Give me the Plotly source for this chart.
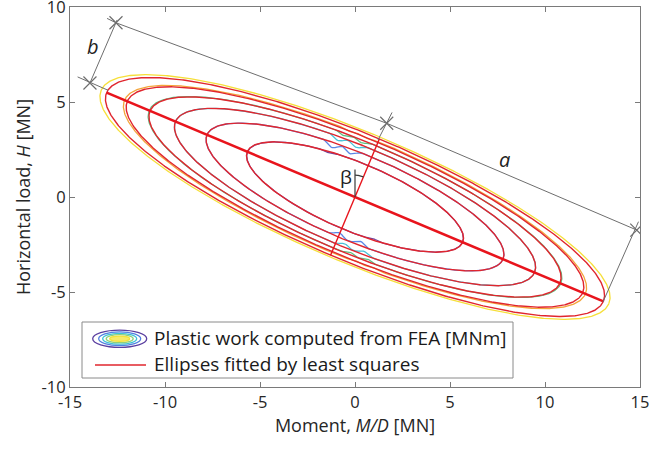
import numpy as np
import plotly.graph_objects as go

# ---------------- data ----------------
# fitted ellipses (centre at origin), semi-axes in MN
ellipse_a = [14.18, 13.00, 11.70, 10.25, 8.45, 6.15]
ellipse_b = [3.32, 3.12, 2.92, 2.66, 2.28, 1.80]
beta_deg = 22.8  # inclination of the ellipses

# FEA plastic-work contours: colour, size relative to fitted ellipse
fea_colors = ["#f6df3a", "#f4a53a", "#5cc184", "#48c1d8", "#5a86e6", "#6a44a2"]
fea_scale_a = [1.022, 1.012, 1.004, 1.0, 1.0, 0.998]
fea_scale_b = [1.03, 1.015, 1.0, 1.0, 1.0, 1.0]
# wiggles of FEA contours near the minor axis: (x position, inward depth)
fea_wiggles_upper = [
    [],
    [(-0.2, 0.08), (0.7, 0.08)],
    [(-0.5, 0.15), (0.4, 0.15)],
    [(-0.8, 0.22), (0.15, 0.22)],
    [(-1.1, 0.28), (-0.15, 0.26)],
    [(-1.3, 0.08)],
]
fea_wiggles_lower = [
    [],
    [(0.0, 0.07), (0.9, 0.07)],
    [(-0.3, 0.13), (0.6, 0.13)],
    [(-0.6, 0.18), (0.4, 0.18)],
    [(-0.9, 0.22), (0.2, 0.22)],
    [(0.9, 0.08)],
]

# dimension annotation points (data units)
dim_major_ext = [(-14.6, 6.32), (-13.0, 5.62)]
dim_b_line = [(-13.95, 6.00), (-12.52, 9.32)]
dim_top_line = [(-13.05, 9.40), (-12.58, 9.17), (1.67, 3.88), (14.83, -1.74)]
dim_minor_ext = [(1.21, 3.00), (1.95, 4.45)]
dim_right_ext = [(13.05, -5.53), (14.92, -1.30)]
dim_cross_x = [-13.95, -12.58, 1.67, 14.83]
dim_cross_y = [6.00, 9.17, 3.88, -1.74]

x_ticks = [-15, -10, -5, 0, 5, 10, 15]
y_ticks = [-10, -5, 0, 5, 10]

# ---------------- geometry helpers ----------------
th = np.deg2rad(beta_deg)
e1 = np.array([np.cos(th), -np.sin(th)])  # major direction
e2 = np.array([np.sin(th), np.cos(th)])   # minor direction
t = np.linspace(0, 2 * np.pi, 721)


def ellipse_xy(a, b, up=None, lo=None):
    u = a * np.cos(t)
    v = b * np.sin(t)
    x = u * e1[0] + v * e2[0]
    for xc, d in (up or []):
        g = np.exp(-((x - xc) / 0.3) ** 2) * (v > 0)
        v = v - d * g
    for xc, d in (lo or []):
        g = np.exp(-((x - xc) / 0.3) ** 2) * (v < 0)
        v = v + d * g
    x = u * e1[0] + v * e2[0]
    y = u * e1[1] + v * e2[1]
    return x, y


fig = go.Figure()

# FEA contours
for i in range(len(ellipse_a)):
    x, y = ellipse_xy(ellipse_a[i] * fea_scale_a[i], ellipse_b[i] * fea_scale_b[i],
                      fea_wiggles_upper[i], fea_wiggles_lower[i])
    fig.add_trace(go.Scatter(x=x, y=y, mode="lines", showlegend=False,
                             line=dict(color=fea_colors[i], width=1.3), hoverinfo="skip"))

# fitted ellipses
for i in range(len(ellipse_a)):
    x, y = ellipse_xy(ellipse_a[i], ellipse_b[i])
    fig.add_trace(go.Scatter(x=x, y=y, mode="lines", showlegend=False,
                             line=dict(color="#e0262e", width=1.4), hoverinfo="skip"))

# major and minor axes of the outer ellipse
A, B = ellipse_a[0], ellipse_b[0]
fig.add_trace(go.Scatter(x=[-A * e1[0], A * e1[0]], y=[-A * e1[1], A * e1[1]], mode="lines",
                         line=dict(color="#e8141c", width=2.6), showlegend=False))
fig.add_trace(go.Scatter(x=[-B * e2[0], B * e2[0]], y=[-B * e2[1], B * e2[1]], mode="lines",
                         line=dict(color="#e8141c", width=1.4), showlegend=False))

# dimension lines (gray)
gray = "#6e6e6e"
for pts in [dim_major_ext, dim_b_line, dim_top_line, dim_minor_ext, dim_right_ext]:
    fig.add_trace(go.Scatter(x=[p[0] for p in pts], y=[p[1] for p in pts], mode="lines",
                             line=dict(color=gray, width=1), showlegend=False))
fig.add_trace(go.Scatter(x=dim_cross_x, y=dim_cross_y, mode="markers",
                         marker=dict(symbol="x-thin-open", size=13, color=gray,
                                     line=dict(color=gray, width=1.2)),
                         showlegend=False))

# beta marker: vertical line + arc
arc_t = np.linspace(np.pi / 2 - th, np.pi / 2, 20)
fig.add_trace(go.Scatter(x=[0, 0], y=[0, 1.45], mode="lines",
                         line=dict(color="#3a3a3a", width=1.2), showlegend=False))
fig.add_trace(go.Scatter(x=1.15 * np.cos(arc_t), y=1.15 * np.sin(arc_t), mode="lines",
                         line=dict(color="#3a3a3a", width=1.2), showlegend=False))

fnt = "Open Sans, Noto Sans, sans-serif"
annotations = [
    dict(x=-13.8, y=7.9, text="<i>b</i>", showarrow=False, font=dict(size=20, color="#222", family=fnt)),
    dict(x=7.85, y=1.95, text="<i>a</i>", showarrow=False, font=dict(size=20, color="#222", family=fnt)),
    dict(x=-0.45, y=1.05, text="β", showarrow=False, font=dict(size=19, color="#222", family=fnt)),
]

# ---------------- custom legend ----------------
def px2paper(px, py):
    return (px - 70) / 570.0, (387 - py) / 380.0

lx0, ly0 = px2paper(82, 322)
lx1, ly1 = px2paper(513, 378)
shapes = [dict(type="rect", xref="paper", yref="paper", x0=lx0, y0=ly1, x1=lx1, y1=ly0,
               line=dict(color="#8a8a8a", width=1), fillcolor="white", layer="above")]
icon = [(27, 8.6, "#5b3fa0", None), (21, 6.8, "#4f7fe0", None), (17, 5.4, "#3fc2d6", None),
        (13.5, 4.0, "#8fd07a", None), (10, 2.6, "#f4e23a", "#f8ea6a")]
cx, cy = 119.7, 338.7
for hw, hh, col, fill in icon:
    xa, ya = px2paper(cx - hw, cy + hh)
    xb, yb = px2paper(cx + hw, cy - hh)
    shapes.append(dict(type="circle", xref="paper", yref="paper", x0=xa, y0=ya, x1=xb, y1=yb,
                       line=dict(color=col, width=1.3), fillcolor=fill, layer="above"))
xa, ya = px2paper(95, 365)
xb, _ = px2paper(146, 365)
shapes.append(dict(type="line", xref="paper", yref="paper", x0=xa, y0=ya, x1=xb, y1=ya,
                   line=dict(color="#e0262e", width=1.3), layer="above"))
tx, ty1 = px2paper(152, 338)
_, ty2 = px2paper(152, 364)
annotations += [
    dict(xref="paper", yref="paper", x=tx, y=ty1, xanchor="left", yanchor="middle", showarrow=False,
         text="Plastic work computed from FEA [MNm]", font=dict(size=19, color="#1a1a1a", family=fnt)),
    dict(xref="paper", yref="paper", x=tx, y=ty2, xanchor="left", yanchor="middle", showarrow=False,
         text="Ellipses fitted by least squares", font=dict(size=19, color="#1a1a1a", family=fnt)),
]

axis_common = dict(showgrid=False, zeroline=False, showline=True, linecolor="#7a7a7a", linewidth=1,
                   mirror="ticks", ticks="inside", ticklen=5, tickcolor="#7a7a7a",
                   ticklabeloverflow="allow", automargin=False,
                   tickfont=dict(size=16.5, color="#262626", family=fnt))
fig.update_layout(
    width=649, height=453,
    margin=dict(l=70, r=9, t=7, b=66),
    plot_bgcolor="white", paper_bgcolor="white",
    showlegend=False,
    xaxis=dict(range=[-15, 15], tickvals=x_ticks, ticktext=[str(v) for v in x_ticks],
               title=dict(text="Moment, <i>M/D</i> [MN]", font=dict(size=18, color="#262626", family=fnt),
                          standoff=4), **axis_common),
    yaxis=dict(range=[-10, 10], tickvals=y_ticks, ticktext=[str(v) for v in y_ticks],
               title=dict(text="Horizontal load, <i>H</i> [MN]", font=dict(size=18, color="#262626", family=fnt),
                          standoff=6), **axis_common),
    shapes=shapes, annotations=annotations,
)

fig.write_html("out.html")
